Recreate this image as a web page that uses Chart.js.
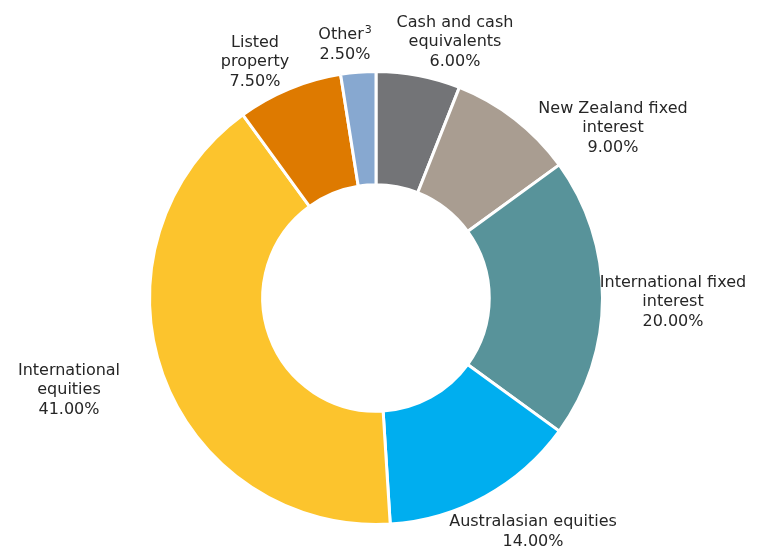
<!DOCTYPE html>
<html>
<head>
<meta charset="utf-8">
<script src="https://cdn.jsdelivr.net/npm/chart.js@4.4.1/dist/chart.umd.min.js"></script>
<style>
  html, body { margin: 0; padding: 0; background: #fff; }
  #wrap { width: 760px; height: 551px; }
</style>
</head>
<body>
<div id="wrap"><canvas id="allocChart" width="760" height="551"></canvas></div>
<script>
let categories = [
  ["Cash and cash", "equivalents"],
  ["New Zealand fixed", "interest"],
  ["International fixed", "interest"],
  ["Australasian equities"],
  ["International", "equities"],
  ["Listed", "property"],
  ["Other\u00b3"],
];
let shares = [6.0, 9.0, 20.0, 14.0, 41.0, 7.5, 2.5];
let sliceColors = ["#737477", "#a99d91", "#58939a", "#00aeef", "#fcc42d", "#de7a00", "#87a8d0"];

// where each label block sits, relative to the chart centre (x, y of block centre)
let labelOffsets = [
  [79, -256],
  [237, -170],
  [297, 4],
  [157, 234],
  [-307, 92],
  [-121, -236],
  [-31, -253],
];

const FONT = "16px 'DejaVu Sans', Verdana, sans-serif";
const SUP_FONT = "11px 'DejaVu Sans', Verdana, sans-serif";

function drawLine(ctx, t, x, y) {
  // a trailing superscript digit is drawn smaller and raised
  if (t.endsWith("\u00b3")) {
    const base = t.slice(0, -1);
    ctx.font = FONT;
    const bw = ctx.measureText(base).width;
    ctx.font = SUP_FONT;
    const sw = ctx.measureText("3").width + 1;
    const left = x - (bw + sw) / 2;
    ctx.textAlign = "left";
    ctx.font = FONT;
    ctx.fillText(base, left, y);
    ctx.font = SUP_FONT;
    ctx.fillText("3", left + bw + 1, y - 5);
    ctx.textAlign = "center";
    ctx.font = FONT;
  } else {
    ctx.fillText(t, x, y);
  }
}

const outsideLabels = {
  id: "outsideLabels",
  afterDraw(chart) {
    const ctx = chart.ctx;
    const arc = chart.getDatasetMeta(0).data[0];
    const cx = arc.x, cy = arc.y;
    const lineH = 19.5;
    ctx.save();
    ctx.font = FONT;
    ctx.fillStyle = "#262626";
    ctx.textAlign = "center";
    ctx.textBaseline = "middle";
    categories.forEach((lines, i) => {
      const all = lines.concat([shares[i].toFixed(2) + "%"]);
      const x = cx + labelOffsets[i][0];
      const y0 = cy + labelOffsets[i][1] - (all.length - 1) * lineH / 2;
      all.forEach((t, j) => drawLine(ctx, t, x, y0 + j * lineH));
    });
    ctx.restore();
  },
};

new Chart("allocChart", {
  type: "doughnut",
  data: {
    labels: categories,
    datasets: [
      {
        data: shares,
        backgroundColor: sliceColors,
        borderColor: "#ffffff",
        borderWidth: 3,
      },
    ],
  },
  options: {
    responsive: false,
    animation: false,
    cutout: "50%",
    layout: { padding: { left: 148, right: 156, top: 70, bottom: 25 } },
    plugins: {
      legend: { display: false },
      tooltip: { enabled: false },
    },
  },
  plugins: [outsideLabels],
});
</script>
</body>
</html>
